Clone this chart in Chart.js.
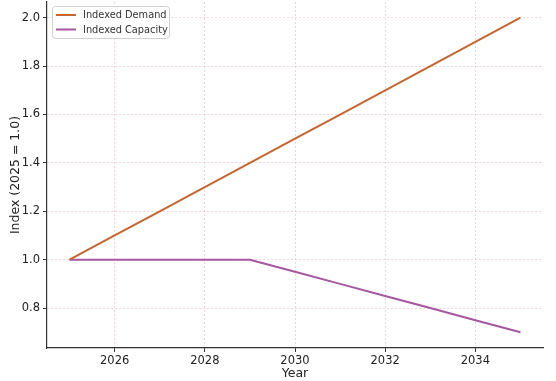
<!DOCTYPE html>
<html><head><meta charset="utf-8">
<script src="https://cdn.jsdelivr.net/npm/chart.js@4"></script>
<style>html,body{margin:0;padding:0;background:#fff}#wrap{width:556px;height:381px}</style>
</head><body><div id="wrap"><canvas id="c" width="556" height="381"></canvas></div>
<script>
const years = [2025, 2026, 2027, 2028, 2029, 2030, 2031, 2032, 2033, 2034, 2035];
const demand = [1.0, 1.1, 1.2, 1.3, 1.4, 1.5, 1.6, 1.7, 1.8, 1.9, 2.0];
const capacity = [1.0, 1.0, 1.0, 1.0, 1.0, 0.95, 0.9, 0.85, 0.8, 0.75, 0.7];
const xTicks = [2026, 2028, 2030, 2032, 2034];
const yTicks = [0.8, 1.0, 1.2, 1.4, 1.6, 1.8, 2.0];
const seriesNames = ['Indexed Demand', 'Indexed Capacity'];
const seriesColors = ['#c8652f', '#a657a0'];

const FONT = "'DejaVu Sans', sans-serif";
const gridColor = 'rgba(225,160,170,0.45)';

const legendPlugin = {
  id: 'boxLegend',
  afterDraw(chart) {
    const ctx = chart.ctx;
    const a = chart.chartArea;
    const x = a.left + 5, y = a.top + 4, w = 117, h = 32, r = 3;
    ctx.save();
    ctx.fillStyle = 'rgba(255,255,255,0.85)';
    ctx.strokeStyle = '#d0d0d0';
    ctx.lineWidth = 1;
    ctx.beginPath();
    ctx.roundRect(x + 0.5, y + 0.5, w, h, r);
    ctx.fill(); ctx.stroke();
    ctx.font = '9.8px ' + FONT;
    ctx.textBaseline = 'middle';
    chart.data.datasets.forEach((ds, i) => {
      const ly = y + 9 + i * 14.5;
      ctx.strokeStyle = ds.borderColor;
      ctx.lineWidth = 2;
      ctx.beginPath(); ctx.moveTo(x + 4, ly); ctx.lineTo(x + 24, ly); ctx.stroke();
      ctx.fillStyle = '#333';
      ctx.fillText(ds.label, x + 31, ly + 0.5);
    });
    ctx.restore();
  }
};

new Chart(document.getElementById('c'), {
  type: 'line',
  data: {
    datasets: [
      { label: seriesNames[0], data: years.map((y, i) => ({ x: y, y: demand[i] })), borderColor: seriesColors[0], borderWidth: 2, pointRadius: 0, fill: false, tension: 0 },
      { label: seriesNames[1], data: years.map((y, i) => ({ x: y, y: capacity[i] })), borderColor: seriesColors[1], borderWidth: 2, pointRadius: 0, fill: false, tension: 0 }
    ]
  },
  options: {
    responsive: false,
    animation: false,
    layout: { padding: { top: 2, right: 13, left: 0, bottom: 0 } },
    plugins: { legend: { display: false }, tooltip: { enabled: false } },
    scales: {
      x: {
        type: 'linear', min: 2024.5, max: 2035.5,
        afterBuildTicks(s) { s.ticks = xTicks.map(v => ({ value: v })); },
        afterFit(s) { s.height = 33; s.paddingLeft = 0; s.paddingRight = 0; },
        ticks: { color: '#222', font: { size: 11.5, family: FONT }, padding: 2, maxRotation: 0, callback: v => String(v) },
        grid: { color: gridColor, tickColor: '#333', tickLength: 4, lineWidth: 1 },
        border: { display: true, color: '#333', width: 1.2, dash: [2, 2] },
        title: { display: true, text: 'Year', color: '#222', font: { size: 12.5, family: FONT }, padding: { top: 0, bottom: 0 } }
      },
      y: {
        type: 'linear', min: 0.635, max: 2.065,
        afterBuildTicks(s) { s.ticks = yTicks.map(v => ({ value: v })); },
        afterFit(s) { s.width = 47; s.paddingTop = 0; s.paddingBottom = 0; },
        ticks: { color: '#222', font: { size: 11.5, family: FONT }, padding: 3, callback: v => v.toFixed(1) },
        grid: { color: gridColor, tickColor: '#333', tickLength: 4, lineWidth: 1 },
        border: { display: true, color: '#333', width: 1.2, dash: [2, 2] },
        title: { display: true, text: 'Index (2025 = 1.0)', color: '#222', font: { size: 12.5, family: FONT }, padding: { top: 8, bottom: 2 } }
      }
    }
  },
  plugins: [legendPlugin]
});
</script></body></html>
